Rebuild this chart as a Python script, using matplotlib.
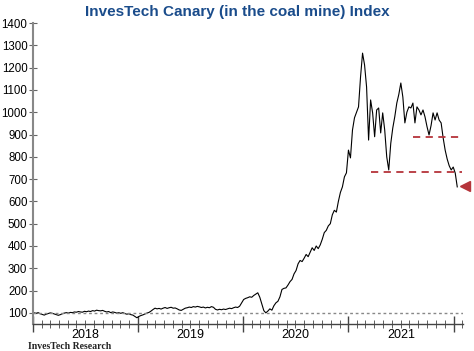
import pandas as pd
import matplotlib.pyplot as plt
import matplotlib.dates as mdates

plt.rcParams['font.family'] = 'Liberation Sans'

# valores semanales (indice = 100 al inicio)
val_2018 = [100, 98, 101, 96, 93, 90, 94, 97, 100, 98, 95, 92, 89, 92, 96, 99,
            101, 99, 102, 101, 104, 103, 106, 104, 103, 107, 105, 108, 106, 110,
            108, 112, 110, 109, 111, 107, 104, 106, 101, 104, 102, 99, 101, 98,
            101, 97, 94, 96, 92, 90, 84, 78, 84]
val_2019 = [88, 91, 95, 99, 102, 108, 115, 121, 118, 120, 117, 121, 124, 120,
            123, 125, 121, 122, 118, 113, 111, 116, 121, 123, 126, 124, 128, 126,
            129, 127, 124, 126, 122, 125, 123, 128, 125, 116, 113, 116, 114, 117,
            115, 118, 121, 119, 123, 126, 124, 130, 145, 160]
val_2020 = [165, 168, 172, 170, 178, 184, 190, 170, 140, 110, 100, 108, 118, 112,
            132, 145, 152, 172, 205, 210, 212, 225, 240, 250, 275, 290, 320, 335,
            330, 345, 362, 352, 372, 392, 380, 400, 388, 405, 430, 460, 470, 490,
            500, 540, 560, 552, 600, 640, 665, 710, 728, 830]
val_2021 = [795, 920, 975, 1000, 1024, 1158, 1265, 1212, 1113, 875, 1055, 997,
            890, 1010, 1019, 907, 997, 920, 800, 741, 860, 929, 980, 1041, 1080,
            1131, 1068, 952, 1000, 1024, 1019, 1041, 952, 1024, 1010, 988, 1010,
            979, 935, 898, 940, 997, 965, 997, 965, 952, 885, 830, 790, 760, 741,
            754, 727, 665]

valores = val_2018 + val_2019 + val_2020 + val_2021
fechas = pd.date_range('2018-01-05', periods=len(valores), freq='W-FRI')

# niveles de soporte (lineas rojas) y flecha
soporte_alto = 888
soporte_bajo = 733
nivel_flecha = 670

fig = plt.figure(figsize=(4.74, 3.51), dpi=100)
ax = fig.add_axes([0.0696, 0.0769, 0.9072, 0.8575])

ax.plot(fechas, valores, color='black', linewidth=0.8)

x0 = pd.Timestamp('2018-01-01')
x1 = pd.Timestamp('2022-02-03')
ax.hlines(100, x0, x1, colors='#888888', linestyles=(0, (2, 2)), linewidth=1)

rojo = '#b5343a'
ax.hlines(soporte_alto, pd.Timestamp('2021-08-12'), pd.Timestamp('2022-02-01'),
          colors=rojo, linestyles=(0, (4, 3)), linewidth=1.3)
ax.hlines(soporte_bajo, pd.Timestamp('2021-03-20'), pd.Timestamp('2022-01-29'),
          colors=rojo, linestyles=(0, (4, 3)), linewidth=1.3)
ax.plot([pd.Timestamp('2022-02-10')], [nivel_flecha], marker='<', color=rojo,
        markersize=7, clip_on=False)

ax.set_xlim(x0, x1)
ax.set_ylim(50, 1400)
ax.set_yticks(range(100, 1500, 100))

ax.xaxis.set_major_locator(mdates.YearLocator())
ax.xaxis.set_minor_locator(mdates.MonthLocator())
ax.xaxis.set_major_formatter(plt.NullFormatter())

for s in ['top', 'right']:
    ax.spines[s].set_visible(False)
ax.spines['left'].set_color('#888888')
ax.spines['left'].set_linewidth(1.5)
ax.spines['bottom'].set_color('#444444')
ax.spines['bottom'].set_linewidth(1)

ax.tick_params(axis='y', direction='inout', length=6, color='#666666',
               labelsize=8.3, pad=1)
ax.tick_params(axis='x', which='minor', direction='inout', length=6,
               color='#444444')
ax.tick_params(axis='x', which='major', direction='inout', length=12,
               color='#444444', width=1)

for anio in [2018, 2019, 2020, 2021]:
    ax.text(pd.Timestamp(f'{anio}-07-02'), -0.015, str(anio),
            transform=ax.get_xaxis_transform(), ha='center', va='top',
            fontsize=9)

fig.text(0.5, 0.985, 'InvesTech Canary (in the coal mine) Index', ha='center',
         va='top', fontsize=11, fontweight='bold', color='#1a4c8b')
fig.text(0.059, 0.006, 'InvesTech Research', ha='left', va='baseline',
         fontsize=7, fontweight='bold', family='Liberation Serif',
         color='#222222')

fig.savefig('out.png', dpi=100)
